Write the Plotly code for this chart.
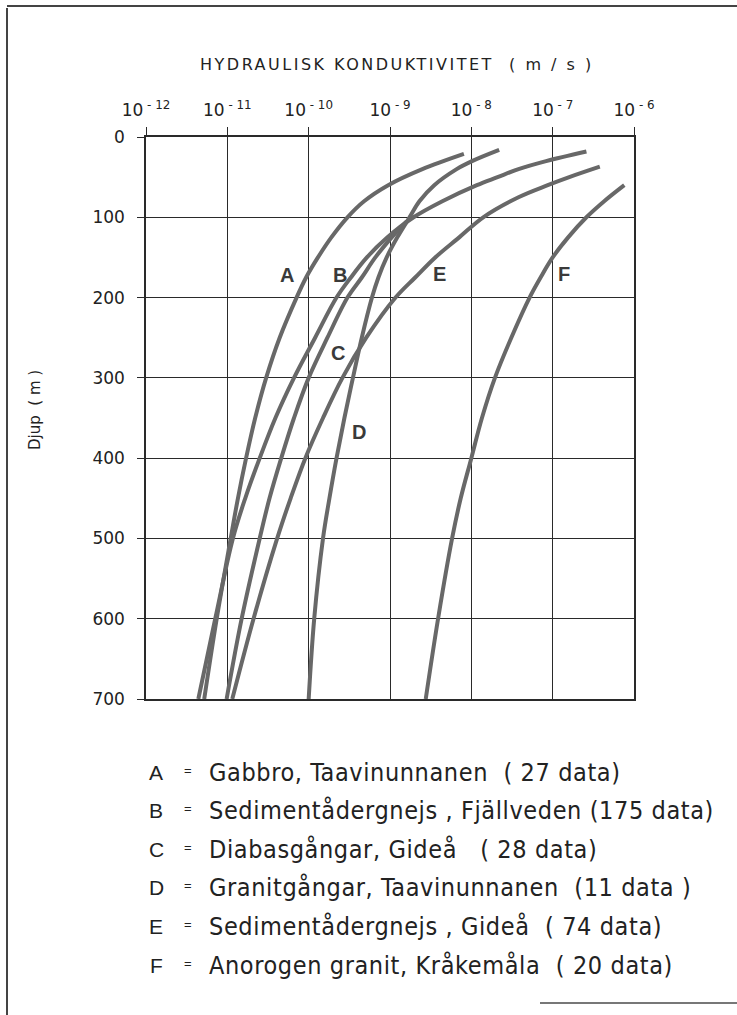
import math
import plotly.graph_objects as go

# ---- data (depth in m, hydraulic conductivity in m/s) ----
depth_A = [21, 40, 60, 80, 100, 125, 150, 175, 200, 250, 300, 350, 400, 450, 500, 600, 700]
K_A = [8.1e-9, 2.5e-9, 9.5e-10, 4.8e-10, 3.0e-10, 1.9e-10, 1.3e-10, 9.3e-11, 7.1e-11,
       4.4e-11, 3.0e-11, 2.2e-11, 1.7e-11, 1.35e-11, 1.1e-11, 7.4e-12, 5.2e-12]

depth_B = [18, 30, 40, 50, 60, 80, 100, 125, 150, 175, 200, 250, 300, 350, 400, 450, 500, 600, 700]
K_B = [2.6e-7, 8.3e-8, 3.8e-8, 2.1e-8, 1.17e-8, 4.4e-9, 1.95e-9, 9.3e-10, 5.2e-10, 3.3e-10,
       2.2e-10, 1.2e-10, 6.6e-11, 3.9e-11, 2.5e-11, 1.66e-11, 1.17e-11, 7.1e-12, 4.4e-12]

depth_C = [105, 125, 150, 175, 200, 250, 300, 350, 400, 450, 500, 600, 700]
K_C = [1.6e-9, 1.05e-9, 6.6e-10, 4.5e-10, 3.0e-10, 1.7e-10, 1.0e-10, 6.6e-11, 4.6e-11,
       3.3e-11, 2.5e-11, 1.5e-11, 9.8e-12]

depth_D = [16, 30, 40, 60, 80, 100, 125, 150, 175, 200, 250, 300, 350, 400, 450, 500, 600, 700]
K_D = [2.2e-8, 1.02e-8, 6.6e-9, 3.5e-9, 2.3e-9, 1.74e-9, 1.23e-9, 9.1e-10, 7.2e-10, 6.0e-10,
       4.5e-10, 3.5e-10, 2.75e-10, 2.2e-10, 1.8e-10, 1.5e-10, 1.17e-10, 1.0e-10]

depth_E = [37, 50, 60, 75, 100, 125, 150, 175, 200, 250, 300, 350, 400, 450, 500, 600, 700]
K_E = [3.8e-7, 1.6e-7, 8.7e-8, 3.8e-8, 1.4e-8, 7.1e-9, 3.6e-9, 2.04e-9, 1.17e-9, 5.1e-10,
       2.6e-10, 1.5e-10, 9.1e-11, 6.0e-11, 4.1e-11, 2.1e-11, 1.15e-11]

depth_F = [60, 80, 100, 125, 150, 175, 200, 250, 300, 350, 400, 450, 500, 600, 700]
K_F = [7.6e-7, 4.3e-7, 2.6e-7, 1.55e-7, 1.0e-7, 7.1e-8, 5.2e-8, 3.1e-8, 1.95e-8, 1.35e-8,
       1.0e-8, 7.4e-9, 5.8e-9, 3.9e-9, 2.75e-9]

curve_names = ["A", "B", "C", "D", "E", "F"]
curve_depths = [depth_A, depth_B, depth_C, depth_D, depth_E, depth_F]
curve_K = [K_A, K_B, K_C, K_D, K_E, K_F]

# curve letter labels placed in the chart (K, depth)
label_K = [5.4e-11, 2.45e-10, 2.3e-10, 4.1e-10, 4.1e-9, 1.38e-7]
label_depth = [172, 172, 269, 368, 171, 171]

x_tickvals = [1e-12, 1e-11, 1e-10, 1e-9, 1e-8, 1e-7, 1e-6]
x_ticktext = ["10<sup> - 12</sup>", "10<sup> - 11</sup>", "10<sup> - 10</sup>",
              "10<sup> - 9</sup>", "10<sup> - 8</sup>", "10<sup> - 7</sup>", "10<sup> - 6</sup>"]
y_tickvals = [0, 100, 200, 300, 400, 500, 600, 700]

legend_letters = ["A", "B", "C", "D", "E", "F"]
legend_texts = [
    "Gabbro, Taavinunnanen  ( 27 data)",
    "Sedimentådergnejs , Fjällveden (175 data)",
    "Diabasgångar, Gideå   ( 28 data)",
    "Granitgångar, Taavinunnanen  (11 data )",
    "Sedimentådergnejs , Gideå  ( 74 data)",
    "Anorogen granit, Kråkemåla  ( 20 data)",
]

x_title = "HYDRAULISK KONDUKTIVITET  ( m / s )"
y_title = "Djup  ( m )"

# ---- layout geometry ----
W, H = 737, 1015
L, R, T, B = 146, 103, 137, 316
PW, PH = W - L - R, H - T - B


def px(x):
    return (x - L) / PW


def py(y):
    return (H - B - y) / PH


fig = go.Figure()
for name, d, k in zip(curve_names, curve_depths, curve_K):
    fig.add_trace(go.Scatter(x=k, y=d, mode="lines", name=name,
                             line=dict(color="#686868", width=4, shape="spline", smoothing=1.0),
                             showlegend=False, hoverinfo="skip"))

for name, kx, dy in zip(curve_names, label_K, label_depth):
    fig.add_annotation(x=math.log10(kx), y=dy, xref="x", yref="y", text="<b>" + name + "</b>",
                       showarrow=False,
                       font=dict(family="Liberation Sans, Arial, sans-serif", size=20, color="#3a3a3a"),
                       xanchor="center", yanchor="middle")

grid_col = "#2a2a2a"
fig.update_xaxes(type="log", range=[-12, -6], side="top", tickvals=x_tickvals,
                 ticktext=x_ticktext, showgrid=True, gridcolor=grid_col, gridwidth=1.2,
                 showline=True, linecolor=grid_col, linewidth=1.5, mirror=True,
                 ticks="outside", ticklen=8, tickcolor=grid_col, tickwidth=1.3,
                 ticklabelstandoff=4,
                 tickfont=dict(family="DejaVu Sans, sans-serif", size=17, color="#222"),
                 zeroline=False)
fig.update_yaxes(range=[700, 0], tickvals=y_tickvals, showgrid=True, gridcolor=grid_col,
                 gridwidth=1.2, showline=True, linecolor=grid_col, linewidth=1.5, mirror=True,
                 ticks="outside", ticklen=7, tickcolor=grid_col, tickwidth=1.3,
                 ticklabelstandoff=9,
                 tickfont=dict(family="DejaVu Sans, sans-serif", size=17, color="#222"),
                 zeroline=False)

# axis titles
fig.add_annotation(x=px(397), y=py(65), xref="paper", yref="paper",
                   text='<span style="letter-spacing:2.5px">' + x_title + '</span>',
                   showarrow=False, xanchor="center", yanchor="middle",
                   font=dict(family="DejaVu Sans, sans-serif", size=16, color="#222"))
fig.add_annotation(x=px(35), y=py(410), xref="paper", yref="paper", text=y_title,
                   showarrow=False, textangle=-90, xanchor="center", yanchor="middle",
                   font=dict(family="DejaVu Sans, sans-serif", size=15, color="#222"))

# legend text block
for i, (letter, txt) in enumerate(zip(legend_letters, legend_texts)):
    yy = 772 + i * 38.6
    fig.add_annotation(x=px(156), y=py(yy), xref="paper", yref="paper", text=letter,
                       showarrow=False, xanchor="center", yanchor="middle",
                       font=dict(family="Liberation Sans, Arial, sans-serif", size=21, color="#222"))
    fig.add_annotation(x=px(188), y=py(yy - 2), xref="paper", yref="paper", text="=",
                       showarrow=False, xanchor="center", yanchor="middle",
                       font=dict(family="Liberation Sans, Arial, sans-serif", size=13, color="#222"))
    fig.add_annotation(x=px(207), y=py(yy), xref="paper", yref="paper",
                       text='<span style="letter-spacing:0.6px">' + txt + '</span>',
                       showarrow=False, xanchor="left", yanchor="middle",
                       font=dict(family="DejaVu Sans Condensed, Liberation Sans Narrow, Roboto, sans-serif",
                                 size=25, color="#222"))

# page frame lines
frame = dict(color="#444", width=2)
fig.add_shape(type="line", xref="paper", yref="paper", x0=px(7), x1=px(7), y0=py(8), y1=py(1015), line=frame)
fig.add_shape(type="line", xref="paper", yref="paper", x0=px(7), x1=px(737), y0=py(6), y1=py(6), line=frame)
fig.add_shape(type="line", xref="paper", yref="paper", x0=px(540), x1=px(737), y0=py(1003), y1=py(1003),
              line=dict(color="#777", width=2))

fig.update_layout(width=W, height=H, margin=dict(l=L, r=R, t=T, b=B),
                  paper_bgcolor="white", plot_bgcolor="white")

fig.write_html("out.html")
